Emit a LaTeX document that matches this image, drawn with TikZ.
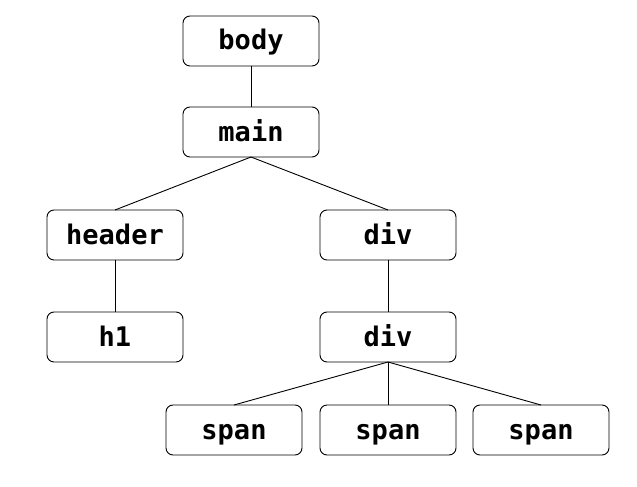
\documentclass[tikz,border=0pt]{standalone}
\usepackage{fontspec}
\setmonofont{DejaVu Sans Mono}
\usepackage{tikz}
\usetikzlibrary{positioning}
\tikzset{tag/.style={draw, rounded corners=7pt, line width=0.9pt, minimum width=136pt, minimum height=50pt,
        inner sep=0pt, outer sep=0pt, text height=22pt, text depth=4pt,
        font=\ttfamily\bfseries\fontsize{27}{27}\selectfont}}

\begin{document}
\begin{tikzpicture}[x=1pt,y=1pt]
            \useasboundingbox (0,0) rectangle (637,-487);
            \node[tag] (body) at (251,-41)              {body};
            \node[tag] (main) [below=41pt of body]      {main};
            \node[tag] (hdr)  [below=53pt of main, xshift=-136pt] {header};
            \node[tag] (dv1)  [below=53pt of main, xshift=137pt]  {div};
            \node[tag] (h1)   [below=52pt of hdr]       {h1};
            \node[tag] (dv2)  [below=52pt of dv1]       {div};
            \node[tag] (sp2)  [below=43pt of dv2]       {span};
            \node[tag] (sp1)  [left=18pt of sp2]        {span};
            \node[tag] (sp3)  [right=17pt of sp2]       {span};

            \foreach \a/\b in {body/main, main/hdr, main/dv1, hdr/h1, dv1/dv2, dv2/sp1, dv2/sp2, dv2/sp3}
                \draw[line width=0.9pt] (\a.south) -- (\b.north);
        \end{tikzpicture}
\end{document}
